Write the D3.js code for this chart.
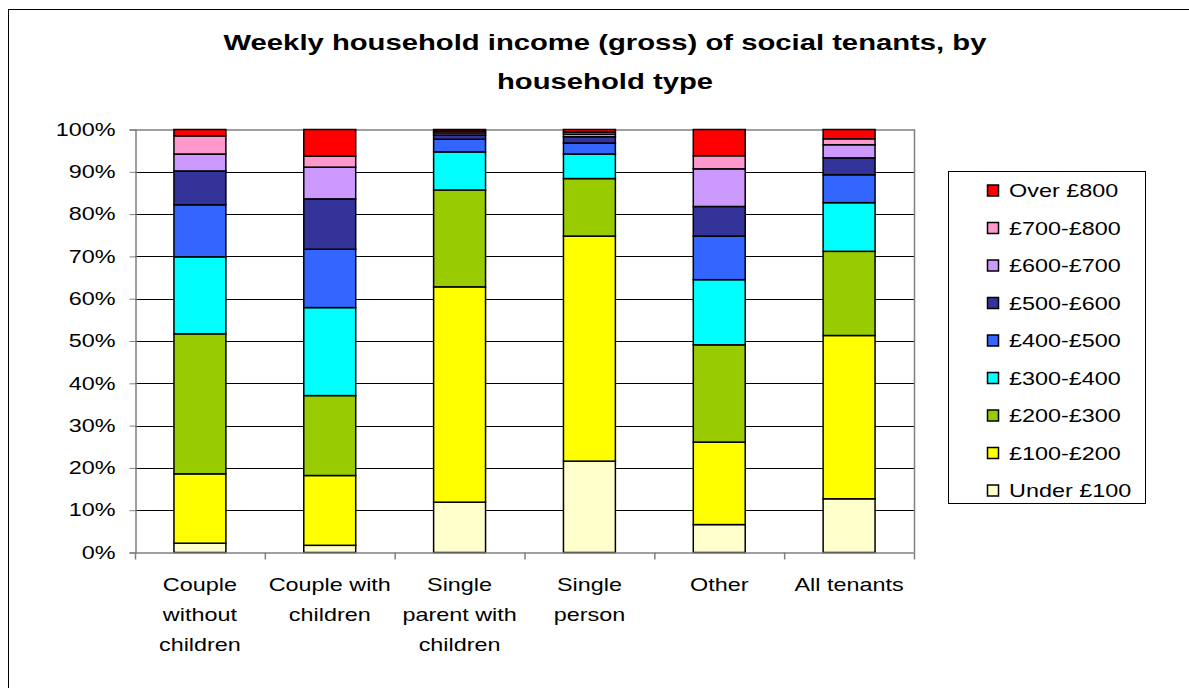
<!DOCTYPE html>
<html><head><meta charset="utf-8">
<script src="https://cdn.jsdelivr.net/npm/d3@7"></script>
<style>body{margin:0;background:#fff}svg{display:block;font-family:"Liberation Sans",Arial,sans-serif}</style>
</head><body>
<svg id="c" width="1189" height="688"></svg>
<script>
const categories = [["Couple","without","children"],["Couple with","children"],["Single","parent with","children"],["Single","person"],["Other"],["All tenants"]];
const seriesNames = ["Under £100","£100-£200","£200-£300","£300-£400","£400-£500","£500-£600","£600-£700","£700-£800","Over £800"];
const seriesColors = ["#FFFFCC","#FFFF00","#99CC00","#00FFFF","#3366FF","#333399","#CC99FF","#FF99CC","#FF0000"];
const under100 = [2.2, 1.7, 11.9, 21.6, 6.6, 12.7];
const from100 = [16.4, 16.5, 50.9, 53.2, 19.5, 38.6];
const from200 = [33.1, 18.9, 22.9, 13.6, 23.0, 19.9];
const from300 = [18.2, 20.8, 9.0, 5.8, 15.4, 11.5];
const from400 = [12.3, 13.8, 3.0, 2.6, 10.3, 6.6];
const from500 = [8.0, 11.9, 1.0, 1.5, 7.0, 4.0];
const from600 = [4.0, 7.5, 0.5, 0.6, 8.9, 3.1];
const from700 = [4.3, 2.6, 0.4, 0.5, 3.1, 1.4];
const over800 = [1.5, 6.3, 0.4, 0.6, 6.2, 2.2];
const yTicks = [0,10,20,30,40,50,60,70,80,90,100];
const titleLines = ["Weekly household income (gross) of social tenants, by","household type"];

const SX = 1.3; // horizontal stretch of the reference's text
const seriesValues = [under100, from100, from200, from300, from400, from500, from600, from700, over800];
const keys = categories.map((c,i)=>i);
const rows = keys.map(i => { const r = {cat:i}; seriesNames.forEach((s,j)=> r[s]=seriesValues[j][i]); return r; });
const stack = d3.stack().keys(seriesNames)(rows);

const svg = d3.select("#c");
const L=135, R=914, T=129.5, B=552.5;
svg.append("rect").attr("x",8.5).attr("y",9.5).attr("width",1300).attr("height",800).attr("fill","none").attr("stroke","#000").attr("stroke-width",1);

const x = d3.scaleBand().domain(keys).range([L,R]).paddingInner(0.6).paddingOuter(0.3);
const y = d3.scaleLinear().domain([0,100]).range([B,T]);

// gridlines
svg.append("g").selectAll("line").data(yTicks.filter(t=>t>0 && t<100)).join("line")
  .attr("x1",L).attr("x2",R).attr("y1",d=>Math.round(y(d))+0.5).attr("y2",d=>Math.round(y(d))+0.5)
  .attr("stroke","#000").attr("stroke-width",1);
svg.append("path").attr("d",`M${L},${T+0.5}H${R+0.5}V${B}`).attr("fill","none").attr("stroke","#808080").attr("stroke-width",1.5);

// bars
svg.append("g").selectAll("g").data(stack).join("g").attr("fill",(d,i)=>seriesColors[i])
  .selectAll("rect").data(d=>d).join("rect")
  .attr("x",d=>x(d.data.cat)).attr("width",x.bandwidth())
  .attr("y",d=>y(d[1])).attr("height",d=>Math.max(0,y(d[0])-y(d[1])))
  .attr("stroke","#000").attr("stroke-width",1.5);

// y axis
const ya = d3.axisLeft(y).tickValues(yTicks).tickFormat(d=>d+"%").tickSize(6).tickPadding(14);
const gy = svg.append("g").attr("transform",`translate(${L+0.5},0)`).call(ya);
gy.select(".domain").attr("stroke","#808080").attr("stroke-width",1.5);
gy.selectAll(".tick line").attr("stroke","#808080");
gy.selectAll("text").attr("font-size",18).attr("fill","#000").style("font-family","Liberation Sans, Arial, sans-serif")
  .attr("x",0).attr("transform",`translate(-20,0) scale(${SX},1)`);

// x axis
const xb = d3.scaleLinear().domain([0,categories.length]).range([L,R]);
svg.append("line").attr("x1",L).attr("x2",R+0.5).attr("y1",B+0.5).attr("y2",B+0.5).attr("stroke","#808080").attr("stroke-width",1.5);
svg.append("g").selectAll("line").data(d3.range(categories.length+1)).join("line")
  .attr("x1",d=>xb(d)+0.5).attr("x2",d=>xb(d)+0.5).attr("y1",B).attr("y2",B+7)
  .attr("stroke","#808080").attr("stroke-width",1.5);
const xl = svg.append("g").selectAll("text").data(categories).join("text")
  .attr("transform",(d,i)=>`translate(${x(i)+x.bandwidth()/2},591) scale(${SX},1)`)
  .attr("text-anchor","middle").attr("font-size",18).attr("fill","#000");
xl.selectAll("tspan").data(d=>d).join("tspan").attr("x",0)
  .attr("dy",(d,i)=>i===0?0:30).text(d=>d);

// title
svg.append("g").selectAll("text").data(titleLines).join("text")
  .attr("transform",(d,i)=>`translate(605,${50+i*39}) scale(${SX},1)`).attr("text-anchor","middle")
  .attr("font-size",22.5).attr("font-weight","bold").attr("fill","#000").text(d=>d);

// legend
svg.append("rect").attr("x",948.5).attr("y",171.5).attr("width",197).attr("height",332).attr("fill","#fff").attr("stroke","#000").attr("stroke-width",1);
const order = seriesNames.map((s,i)=>i).reverse();
const lg = svg.append("g").selectAll("g").data(order).join("g")
  .attr("transform",(d,i)=>`translate(0,${190.5+i*37.5})`);
lg.append("rect").attr("x",987.5).attr("y",-5.5).attr("width",11).attr("height",11)
  .attr("fill",d=>seriesColors[d]).attr("stroke","#000").attr("stroke-width",1.5);
lg.append("text").attr("transform",`translate(1009,6.5) scale(${SX},1)`).attr("font-size",18).attr("fill","#000").text(d=>seriesNames[d]);
</script>
</body></html>
